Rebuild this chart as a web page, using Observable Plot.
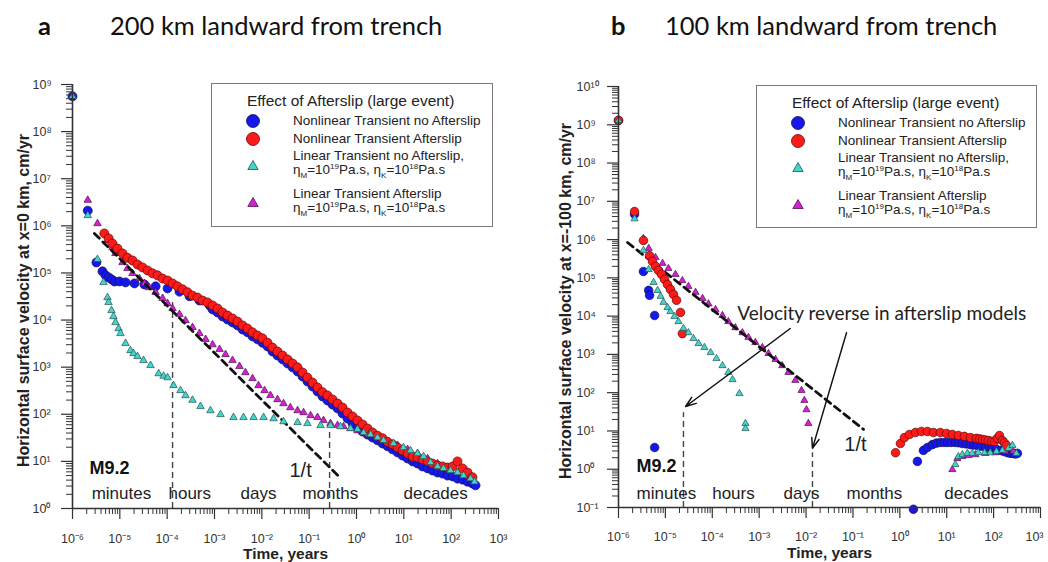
<!DOCTYPE html>
<html><head><meta charset="utf-8">
<script src="https://cdn.jsdelivr.net/npm/d3@7"></script>
<script src="https://cdn.jsdelivr.net/npm/@observablehq/plot@0.6"></script>
<style>
body{margin:0;background:#fff;}
#root{position:relative;width:1048px;height:562px;overflow:hidden;font-family:"Liberation Sans",Arial,sans-serif;color:#222;background:#fff;}
.panel{position:absolute;top:0;}
.title{position:absolute;font-family:Lato,"Open Sans",sans-serif;font-size:25.5px;line-height:30px;white-space:nowrap;color:#111;}
.legend{position:absolute;border:1px solid #7a7a7a;background:#fff;box-sizing:border-box;}
.legend .t{position:absolute;white-space:nowrap;line-height:16px;color:#222;}
.legend sub,.legend sup{font-size:8px;line-height:0;}
.legend svg{position:absolute;}
</style></head><body><div id="root"></div>
<script>
// ---------- tick exponents ----------
const xExps = [-6,-5,-4,-3,-2,-1,0,1,2,3];
const aYExps = [0,1,2,3,4,5,6,7,8,9];
const bYExps = [-1,0,1,2,3,4,5,6,7,8,9,10];

// ---------- panel a : 200 km landward (t years, v cm/yr) ----------
const aBlue = [[1e-6,5.6e8],[2.1e-6,2.1e6],[3.2e-6,1.67e5],[4.3e-6,1.08e5],[5.0e-6,8.9e4],[5.8e-6,8.0e4],[6.7e-6,7.3e4],[7.7e-6,6.6e4],[9.8e-6,6.6e4],[1.32e-5,6.3e4],[2.04e-5,6.0e4],[3.3e-5,5.7e4],[5.7e-5,5.2e4],[1.02e-4,4.7e4],[1.82e-4,4.0e4],[2.97e-4,3.2e4],[4.8e-4,2.6e4],[7.9e-4,2.04e4],[9.1e-4,1.68e4],[1.16e-3,1.45e4],[1.48e-3,1.19e4],[1.88e-3,1.03e4],[2.4e-3,8.9e3],[3.06e-3,7.7e3],[3.91e-3,6.3e3],[4.98e-3,5.5e3],[6.35e-3,4.5e3],[8.1e-3,3.9e3],[1.03e-2,3.3e3],[1.32e-2,2.75e3],[1.68e-2,2.15e3],[2.14e-2,1.77e3],[2.74e-2,1.46e3],[3.49e-2,1.2e3],[4.45e-2,990],[5.68e-2,810],[7.24e-2,635],[9.2e-2,497],[0.118,389],[0.15,305],[0.191,239],[0.244,196],[0.311,161],[0.397,133],[0.507,104],[0.646,81],[0.824,64],[1.05,52],[1.34,43],[1.71,37],[2.18,32],[2.78,28],[3.55,24],[4.52,21],[5.77,18],[7.36,15.5],[9.38,13.3],[12,11.5],[15.3,10],[19.5,9.0],[24.8,7.8],[31.7,7.1],[40.4,6.4],[51.5,5.8],[65.6,5.5],[83.8,5.0],[107,4.8],[136,4.3],[174,4.1],[222,3.7],[282,3.4],[327,3.1]];
const aRed = [[4.7e-6,6.9e5],[5.8e-6,5.4e5],[7.0e-6,4.2e5],[8.9e-6,3.3e5],[1.14e-5,2.6e5],[1.45e-5,2.1e5],[1.85e-5,1.84e5],[2.36e-5,1.51e5],[3.0e-5,1.31e5],[3.85e-5,1.13e5],[4.9e-5,9.8e4],[6.25e-5,8.9e4],[8.0e-5,7.6e4],[1.02e-4,6.9e4],[1.3e-4,6.0e4],[1.65e-4,5.2e4],[2.11e-4,4.5e4],[2.69e-4,3.9e4],[3.43e-4,3.3e4],[4.38e-4,3.0e4],[5.58e-4,2.6e4],[7.1e-4,2.37e4],[9.1e-4,2.04e4],[1.16e-3,1.76e4],[1.48e-3,1.45e4],[1.88e-3,1.25e4],[2.4e-3,1.08e4],[3.06e-3,9.3e3],[3.91e-3,7.7e3],[4.98e-3,6.6e3],[6.35e-3,5.5e3],[8.1e-3,4.7e3],[1.03e-2,4.1e3],[1.32e-2,3.3e3],[1.68e-2,2.6e3],[2.14e-2,2.15e3],[2.74e-2,1.77e3],[3.49e-2,1.46e3],[4.45e-2,1.2e3],[5.68e-2,990],[7.24e-2,770],[9.2e-2,600],[0.118,470],[0.15,370],[0.191,295],[0.244,251],[0.311,206],[0.397,169],[0.507,139],[0.646,109],[0.824,90],[1.05,74],[1.34,61],[1.71,50],[2.18,41],[2.78,35],[3.55,31],[4.52,26],[5.77,23],[7.36,19.7],[9.38,17],[12,14.7],[15.3,12.7],[19.5,12.1],[24.8,11],[31.7,10],[40.4,9.0],[51.5,8.2],[65.6,7.8],[83.8,7.4],[107,7.8],[136,10],[174,7.1],[222,5.8],[282,4.6]];
const aCyan = [[1e-6,5.6e8],[2.1e-6,1.66e6],[3.37e-6,1.94e5],[4.52e-6,6.3e4],[5.49e-6,3.0e4],[5.77e-6,2.37e4],[6.67e-6,1.6e4],[7.35e-6,1.19e4],[8.1e-6,8.9e3],[9.4e-6,6.6e3],[1.03e-5,5.2e3],[1.32e-5,3.2e3],[1.68e-5,2.26e3],[1.95e-5,1.95e3],[2.36e-5,1.69e3],[3.16e-5,1.39e3],[4.45e-5,1.09e3],[6.6e-5,730],[8.4e-5,650],[1.02e-4,600],[1.36e-4,410],[1.91e-4,320],[2.44e-4,250],[3.43e-4,200],[5.06e-4,147],[8.2e-4,120],[1.34e-3,99],[2.52e-3,86],[4.1e-3,86],[6.7e-3,86],[1.09e-2,86],[1.77e-2,81],[2.87e-2,70],[5.7e-2,67],[9.2e-2,64],[0.174,58],[0.282,58],[0.459,55],[0.748,50],[1.05,48],[1.41,41],[1.98,37],[2.78,32],[3.72,28],[6.05,24],[9.8,19.7],[13.8,17],[19.5,14.7],[26.1,12.7],[36.6,9.5],[51.5,7.8],[68.9,7.1],[96.8,6.4],[136,5.8],[182,5.0],[257,4.3],[312,3.7]];
const aMagenta = [[2.1e-6,3.5e6],[3.37e-6,1.12e6],[5.49e-6,4.9e5],[7.0e-6,3.5e5],[8.1e-6,2.6e5],[1.14e-5,1.67e5],[1.45e-5,1.25e5],[1.85e-5,9.8e4],[2.6e-5,7.6e4],[3.3e-5,6.0e4],[4.2e-5,4.9e4],[5.7e-5,3.9e4],[8.0e-5,2.9e4],[1.02e-4,2.25e4],[1.3e-4,1.76e4],[1.82e-4,1.32e4],[2.44e-4,9.8e3],[3.43e-4,7.0e3],[4.8e-4,5.2e3],[6.5e-4,3.9e3],[9.1e-4,3.0e3],[1.28e-3,2.4e3],[1.71e-3,1.86e3],[2.4e-3,1.39e3],[3.37e-3,1.04e3],[4.5e-3,770],[6.35e-3,575],[8.5e-3,408],[1.14e-2,320],[1.52e-2,251],[2.14e-2,206],[2.87e-2,169],[4.0e-2,139],[5.68e-2,120],[7.6e-2,109],[0.107,94],[0.15,86],[0.201,74],[0.282,64],[0.397,58],[0.532,55],[0.748,50],[1.05,45],[1.71,37],[2.78,32],[4.52,26],[7.36,22],[12,18],[19.5,14.7],[31.7,11.5],[51.5,9.0],[83.8,7.1],[136,5.8],[222,4.8]];
const aSlope = [[2.9e-6,6.9e5],[0.46,4.4]];
const aGuides = [{t:1.3e-4, top:2.6e4},{t:0.27, top:50}];
const aWords = [{t:1.08e-5,v:2.1,label:"minutes"},{t:3.0e-4,v:2.1,label:"hours"},{t:8.5e-3,v:2.1,label:"days"},{t:0.28,v:2.1,label:"months"},{t:47,v:2.1,label:"decades"}];
const aMag = [{t:6.05e-6,v:7.1,label:"M9.2"}];
const aRate = [{t:6.6e-2,v:6.4,label:"1/t"}];

// ---------- panel b : 100 km landward ----------
const bBlue = [[1e-6,1.3e9],[2.2e-6,4.6e6],[3.4e-6,1.47e5],[4.4e-6,4.7e4],[4.6e-6,3.5e4],[5.9e-6,1.04e4],[5.9e-6,3.7],[1.95,0.09],[2.37,1.6],[3.18,3.1],[3.87,3.7],[4.95,4.4],[6.0,4.8],[7.3,5.0],[8.8,5.0],[10.4,5.0],[12.5,5.0],[15.3,5.0],[18,4.9],[21.6,4.7],[26,4.6],[32,4.4],[38,4.3],[45,4.2],[55,4.0],[67,3.9],[80,3.7],[94,3.5],[115,3.3],[140,3.1],[165,2.9],[197,2.7],[230,2.6],[263,2.6],[290,2.5],[321,2.6]];
const bRed = [[1e-6,1.3e9],[2.2e-6,5.4e6],[3.4e-6,9.5e5],[4.6e-6,3.8e5],[5.3e-6,2.7e5],[6.15e-6,2.0e5],[7.1e-6,1.56e5],[8.3e-6,1.23e5],[9.6e-6,9.1e4],[1.11e-5,6.7e4],[1.28e-5,5.0e4],[1.49e-5,3.7e4],[1.73e-5,2.6e4],[2.1e-5,1.25e4],[2.3e-5,3.5e3],[0.81,2.7],[1.03,4.7],[1.25,6.7],[1.6,8.1],[2.15,9.1],[2.89,9.7],[3.87,9.7],[5.2,9.1],[7.3,9.1],[9.9,8.6],[13.2,8.1],[17.7,7.6],[23.8,7.2],[32,6.7],[43,6.4],[50,6.2],[58,6.0],[67,5.8],[77,5.6],[90,5.4],[104,5.3],[120,6.4],[133,7.6],[154,5.6],[170,4.9],[188,4.2]];
const bCyan = [[1e-6,1.3e9],[2.2e-6,3.5e6],[3.4e-6,5.2e5],[4.4e-6,1.66e5],[5.6e-6,7.6e4],[6.8e-6,4.7e4],[7.9e-6,3.3e4],[9.1e-6,2.3e4],[1.11e-5,1.68e4],[1.28e-5,1.32e4],[1.56e-5,9.8e3],[1.9e-5,7.2e3],[2.43e-5,4.8e3],[3.1e-5,3.7e3],[3.97e-5,2.6e3],[5.1e-5,1.93e3],[6.8e-5,1.52e3],[9.2e-5,1.12e3],[1.23e-4,780],[1.65e-4,510],[2.2e-4,340],[2.7e-4,220],[3.8e-4,95],[5.1e-4,15.7],[5.1e-4,11.6],[15.3,1.33],[17.7,2.15],[21.6,2.4],[27.6,2.6],[35,2.6],[47,2.7],[64,2.7],[85,2.7],[115,2.9],[154,3.1],[207,3.5],[252,4.2],[306,2.6]];
const bMagenta = [[1e-6,1.3e9],[2.2e-6,5.0e6],[3.4e-6,1.07e6],[4.4e-6,5.9e5],[6.15e-6,3.4e5],[8.7e-6,2.4e5],[1.16e-5,1.76e5],[1.64e-5,1.23e5],[2.3e-5,8.5e4],[3.1e-5,6.0e4],[4.4e-5,4.2e4],[6.2e-5,2.9e4],[8.3e-5,2.1e4],[1.17e-4,1.49e4],[1.65e-4,1.04e4],[2.2e-4,7.2e3],[3.1e-4,5.0e3],[4.4e-4,3.7e3],[5.9e-4,2.8e3],[8.3e-4,2.05e3],[1.17e-3,1.52e3],[1.58e-3,1.06e3],[2.23e-3,740],[3.1e-3,510],[4.2e-3,340],[5.9e-3,210],[8.0e-3,114],[9.2e-3,63],[1.02e-2,36],[1.12e-2,15.7],[13.2,0.98],[16.9,1.9],[21.6,2.15],[29,2.3],[41,2.4],[67,2.6],[109,2.7],[179,2.9],[263,2.9]];
const bSlope = [[1.56e-6,8.4e5],[0.168,11]];
const bGuides = [{t:2.43e-5, top:30},{t:1.37e-2, top:2.7}];
const bWords = [{t:1.05e-5,v:0.23,label:"minutes"},{t:2.83e-4,v:0.23,label:"hours"},{t:8.0e-3,v:0.23,label:"days"},{t:0.287,v:0.23,label:"months"},{t:43,v:0.23,label:"decades"}];
const bMag = [{t:6.5e-6,v:1.18,label:"M9.2"}];
const bRate = [{t:0.113,v:4.4,label:"1/t"}];
const bNote = [{t:3.4e-4,v:1.17e4,label:"Velocity reverse in afterslip models"}];
const bArrows = [{t1:4.6e-3,v1:4.75e3,t2:2.7e-5,v2:43.5},{t1:7.3e-2,v1:3.7e3,t2:1.37e-2,v2:3.5}];

// ---------- text ----------
const xTitle = "Time, years";
const aYTitle = "Horizontal surface velocity at x=0 km, cm/yr";
const bYTitle = "Horizontal surface velocity at x=-100 km, cm/yr";
const legendTitle = "Effect of Afterslip (large event)";
const legendItems = [
  {key:"blue", lines:["Nonlinear Transient no Afterslip"]},
  {key:"red", lines:["Nonlinear Transient Afterslip"]},
  {key:"cyan", lines:["Linear Transient no Afterslip,", "η<sub>M</sub>=10<sup>19</sup>Pa.s, η<sub>K</sub>=10<sup>18</sup>Pa.s"]},
  {key:"magenta", lines:["Linear Transient Afterslip", "η<sub>M</sub>=10<sup>19</sup>Pa.s, η<sub>K</sub>=10<sup>18</sup>Pa.s"]}
];

// ---------- styles ----------
const STY = {
  blue:{fill:"#1616ee", stroke:"#15154a", symbol:"circle"},
  red:{fill:"#ff1a1a", stroke:"#5a0a0a", symbol:"circle"},
  cyan:{fill:"#45d3cc", stroke:"#1f5552", symbol:"triangle"},
  magenta:{fill:"#d51ed5", stroke:"#4d124d", symbol:"triangle"}
};
const SUP = {"-":"⁻","0":"⁰","1":"¹","2":"²","3":"³","4":"⁴","5":"⁵","6":"⁶","7":"⁷","8":"⁸","9":"⁹"};
const sup = e => "10" + String(e).split("").map(c => SUP[c]).join("");
const minors = exps => { const o=[]; for (let i=0;i<exps.length-1;i++) for (let m=2;m<=9;m++) o.push(m*10**exps[i]); return o; };
const FONT = "Liberation Sans, Arial, sans-serif";

function panel(o) {
  const fw = o.width - o.ml - o.mr, fh = o.height - o.mt - o.mb;
  const xMaj = o.xExps.map(e => 10**e), yMaj = o.yExps.map(e => 10**e);
  const ax = "#333";
  const dots = (data, k, r) => Plot.dot(data, {x: d=>d[0], y: d=>d[1], r: STY[k].symbol==="circle" ? r : r*0.62,
      symbol: STY[k].symbol, fill: STY[k].fill, stroke: STY[k].stroke, strokeWidth: 0.7});
  const xLab = (data, dx) => Plot.text(data, {x: e=>10**e, frameAnchor:"bottom", lineAnchor:"middle", dy: o.xLabDy, dx, text: sup, fontSize: 12.5, fill:"#333"});
  return Plot.plot({
    width: o.width, height: o.height, marginLeft: o.ml, marginRight: o.mr, marginTop: o.mt, marginBottom: o.mb,
    x: {type:"log", domain:[xMaj[0], xMaj[xMaj.length-1]], axis:null},
    y: {type:"log", domain:[yMaj[0], yMaj[yMaj.length-1]], axis:null},
    style: {background:"transparent", overflow:"visible", fontFamily: FONT},
    marks: [
      Plot.ruleX(o.guides, {x: d=>d.t, y1: () => yMaj[0], y2: d=>d.top, stroke:"#444", strokeWidth:1.4, strokeDasharray:"6,4"}),
      dots(o.blue, "blue", o.r),
      dots(o.magenta, "magenta", o.r),
      Plot.line(o.slope, {x: d=>d[0], y: d=>d[1], stroke:"#111", strokeWidth:2.8, strokeDasharray:"7,5"}),
      dots(o.red, "red", o.r),
      dots(o.cyan, "cyan", o.r),
      // axes
      Plot.ruleX(xMaj, {x: d=>d, insetTop: fh, insetBottom: -11, stroke: ax, strokeWidth: 1.2}),
      Plot.ruleX(minors(o.xExps), {x: d=>d, insetTop: fh, insetBottom: -6, stroke: ax, strokeWidth: 1}),
      Plot.ruleY(yMaj, {y: d=>d, insetRight: fw, insetLeft: -11, stroke: ax, strokeWidth: 1.2}),
      Plot.ruleY(minors(o.yExps), {y: d=>d, insetRight: fw, insetLeft: -6, stroke: ax, strokeWidth: 1}),
      Plot.ruleX([xMaj[0]], {x: d=>d, stroke: ax, strokeWidth: 1.6}),
      Plot.ruleY([yMaj[0]], {y: d=>d, stroke: ax, strokeWidth: 1.6}),
      xLab(o.xExps.slice(0, -1), 0),
      xLab(o.xExps.slice(-1), o.lastDx),
      Plot.text(o.yExps, {y: e=>10**e, frameAnchor:"left", lineAnchor:"middle", dx: o.yLabDx, textAnchor:"start", text: sup, fontSize: 12.5, fill:"#333"}),
      Plot.text([xTitle], {frameAnchor:"bottom", lineAnchor:"middle", textAnchor:"middle", dy: 46, text: d=>d, fontWeight:"bold", fontSize: 15.5, fill:"#222"}),
      Plot.text([o.yTitle], {frameAnchor:"left", textAnchor:"middle", lineAnchor:"middle", dx: o.yTitleDx, dy: o.yTitleDy, rotate: -90, text: d=>d, fontWeight:"bold", fontSize: 16, fill:"#222"}),
      // annotations
      Plot.text(o.words, {x: d=>d.t, y: d=>d.v, text: d=>d.label, fontSize: 17, fill:"#222"}),
      Plot.text(o.mag, {x: d=>d.t, y: d=>d.v, text: d=>d.label, fontSize: 18, fontWeight:"bold", fill:"#111"}),
      Plot.text(o.rate, {x: d=>d.t, y: d=>d.v, text: d=>d.label, fontSize: 20, fill:"#222"}),
      ...(o.extra || [])
    ]
  });
}

const root = document.getElementById("root");

const plotA = panel({width:524, height:562, ml:72, mr:26, mt:84, mb:54, xExps, yExps:aYExps,
  blue:aBlue, red:aRed, cyan:aCyan, magenta:aMagenta, slope:aSlope, guides:aGuides, words:aWords, mag:aMag, rate:aRate,
  r:4.5, xLabDy:30, lastDx:0, yLabDx:-40, yTitle:aYTitle, yTitleDx:-49, yTitleDy:4});
const plotB = panel({width:524, height:562, ml:94, mr:8, mt:86, mb:55, xExps, yExps:bYExps,
  blue:bBlue, red:bRed, cyan:bCyan, magenta:bMagenta, slope:bSlope, guides:bGuides, words:bWords, mag:bMag, rate:bRate,
  r:4.3, xLabDy:29, lastDx:-6, yLabDx:-42, yTitle:bYTitle, yTitleDx:-53, yTitleDy:4,
  extra:[
    Plot.text(bNote, {x:d=>d.t, y:d=>d.v, text:d=>d.label, textAnchor:"start", fontSize:19, fontFamily:"Lato, 'Open Sans', sans-serif", fill:"#222"}),
    Plot.arrow(bArrows, {x1:d=>d.t1, y1:d=>d.v1, x2:d=>d.t2, y2:d=>d.v2, stroke:"#111", strokeWidth:1.5, headLength:11, headAngle:40})
  ]});

const wa = document.createElement("div"); wa.className="panel"; wa.style.left="0px"; wa.appendChild(plotA); root.appendChild(wa);
const wb = document.createElement("div"); wb.className="panel"; wb.style.left="524px"; wb.appendChild(plotB); root.appendChild(wb);

// titles
[["a",38,true],["200 km landward from trench",110,false],["b",611,true],["100 km landward from trench",665,false]].forEach(([txt,x,bold]) => {
  const d = document.createElement("div"); d.className="title"; d.style.left=x+"px"; d.style.top="10px";
  if (bold) d.style.fontWeight="bold"; d.textContent = txt; root.appendChild(d);
});

// legends
function symbolSvg(k) {
  const s = STY[k];
  const shape = s.symbol==="circle"
    ? `<circle cx="8" cy="8" r="6.5" fill="${s.fill}" stroke="${s.stroke}" stroke-width="0.8"/>`
    : `<path d="M8,2.5L13.2,11.5L2.8,11.5Z" fill="${s.fill}" stroke="${s.stroke}" stroke-width="0.8"/>`;
  return `<svg width="16" height="16" viewBox="0 0 16 16">${shape}</svg>`;
}
function legend(left, top, w, h) {
  const box = document.createElement("div"); box.className="legend";
  Object.assign(box.style, {left:left+"px", top:top+"px", width:w+"px", height:h+"px"});
  const rowsY = [[37],[55],[72,86],[110,124]];
  const symY = [37,55,82,119];
  let html = `<div class="t" style="left:35px;top:${17-8}px;font-size:15.5px">${legendTitle}</div>`;
  legendItems.forEach((it,i) => {
    const sv = symbolSvg(it.key).replace("<svg ", `<svg style="left:33px;top:${symY[i]-8}px" `);
    html += sv;
    it.lines.forEach((ln,j) => {
      html += `<div class="t" style="left:81px;top:${rowsY[i][j]-8}px;font-size:13.5px">${ln}</div>`;
    });
  });
  box.innerHTML = html;
  root.appendChild(box);
}
legend(211, 83, 282, 144);
legend(756, 85, 281, 143);
</script></body></html>
